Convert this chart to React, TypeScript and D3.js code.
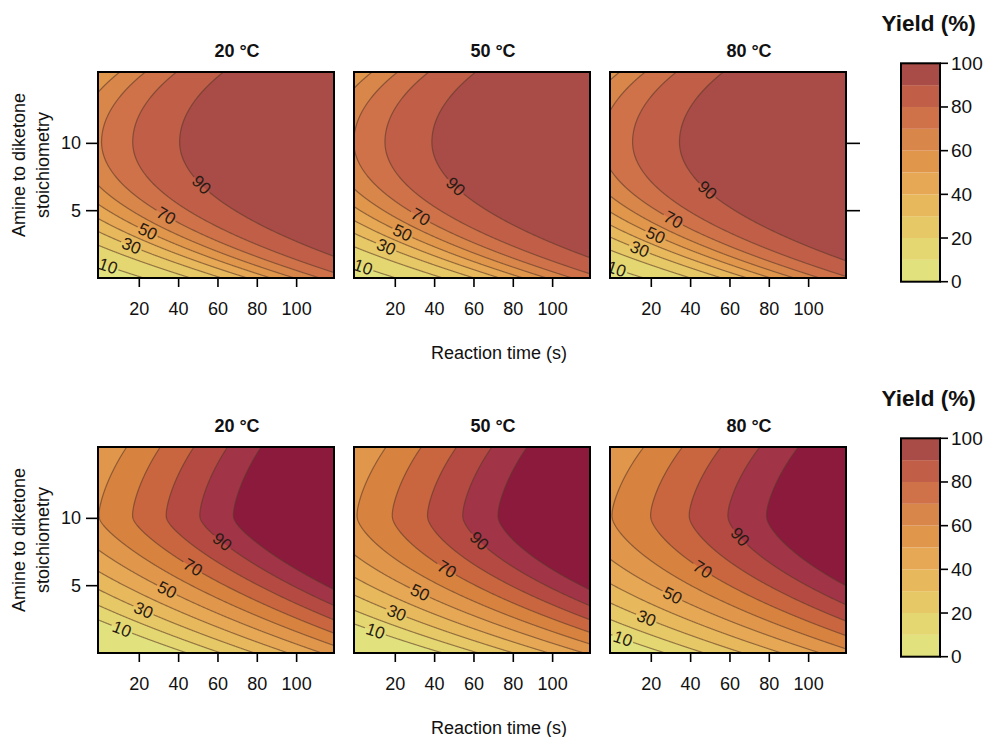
import React from "react";
import * as d3 from "d3";

// ---------- data ----------
const temperatures = ["20 °C", "50 °C", "80 °C"];
const levels = [0, 10, 20, 30, 40, 50, 60, 70, 80, 90, 100];
const labelLevels = [10, 30, 50, 70, 90];
// colour key (0-10 ... 90-100)
const bandColors = [
  "#e1e27d", "#e4d771", "#e7c866", "#e8b95c", "#e6a854",
  "#e0974c", "#d9864a", "#cf7249", "#c05e48", "#a94b47",
];
// fill colours used in the lower row of panels (deeper at the top end) and above 100 %
const lowerRowColors = [
  "#e1e27d", "#e4d771", "#e7c866", "#e8b95c", "#e6a854",
  "#e0974c", "#d8823f", "#c9663f", "#b54a42", "#a13447",
];
const overColor = "#8b1a3d";
const xTicks = [20, 40, 60, 80, 100];
const yTicks = [5, 10];
const legendTicks = [0, 20, 40, 60, 80, 100];
const xDomain = [-1, 119];
const yDomain = [0, 15.3];

// response-surface coefficients, one per panel
// order: top row 20/50/80 °C, bottom row 20/50/80 °C
const modelLink = ["logit", "logit", "logit", "identity", "identity", "identity"];
const modelIntercept = [0.82, 0.885, 1.03, 60.3, 59.7, 60.0];
const modelTimeSlope = [0.034, 0.034, 0.034, 0.585, 0.558, 0.509];
const modelStoichOpt = [10.1, 10.1, 10.1, 10.2, 10.2, 10.2];
const modelLinLow = [0, 0, 0, 3.77, 2.12, 1.9];
const modelQuadLow = [0.037, 0.037, 0.037, 0.388, 0.521, 0.44];
const modelLinHigh = [0, 0, 0, 0.8, 0.8, 0.8];
const modelQuadHigh = [0.028, 0.028, 0.028, 0.18, 0.18, 0.18];

function yieldAt(p: number, t: number, s: number): number {
  const dlt = s - modelStoichOpt[p];
  const ad = Math.sqrt(dlt * dlt + 0.49) - 0.7;
  const pen =
    dlt < 0
      ? modelLinLow[p] * ad + modelQuadLow[p] * dlt * dlt
      : modelLinHigh[p] * ad + modelQuadHigh[p] * dlt * dlt;
  const z = modelIntercept[p] + modelTimeSlope[p] * t - pen;
  if (modelLink[p] === "logit") return 100 / (1 + Math.exp(-z));
  return 3 * Math.log(1 + Math.exp(z / 3));
}

// ---------- layout ----------
const W = 993, H = 737;
const panelW = 236, panelH = 206;
const panelLefts = [98, 354, 610];
const rowTops = [72, 447];
const legendX = 901, legendW = 39;
const legendRanges = [[281.7, 63.3], [656.7, 438.3]];
const FONT = "'Liberation Sans', Arial, Helvetica, sans-serif";

function Panel({ p, row, col }: { p: number; row: number; col: number }) {
  const left = panelLefts[col];
  const top = rowTops[row];
  const x = d3.scaleLinear().domain(xDomain).range([left, left + panelW]);
  const y = d3.scaleLinear().domain(yDomain).range([top + panelH, top]);
  const nx = panelW * 2, ny = panelH * 2;
  const values: number[] = new Array(nx * ny);
  for (let j = 0; j < ny; j++) {
    const s = y.invert(top + (j + 0.5) * (panelH / ny));
    for (let i = 0; i < nx; i++) {
      const t = x.invert(left + (i + 0.5) * (panelW / nx));
      values[j * nx + i] = yieldAt(p, t, s);
    }
  }
  const contours = d3.contours().size([nx, ny]).thresholds(levels)(values);
  const proj = d3.geoTransform({
    point(gx: number, gy: number) {
      (this as any).stream.point(left + (gx * panelW) / nx, top + (gy * panelH) / ny);
    },
  });
  const path = d3.geoPath(proj);
  const fills = row === 0 ? bandColors : lowerRowColors;

  // contour labels where each labelled level crosses a diagonal through the lower-left corner
  const f = (px: number, py: number) => yieldAt(p, x.invert(px), y.invert(py));
  const spots: { L: number; px: number; py: number; ang: number }[] = [];
  const cx = left, cy = top + panelH - 3, slope = 0.87, step = 0.25;
  for (const L of labelLevels) {
    let prev = f(cx, cy);
    for (let k = 1; k < 1200; k++) {
      const px = cx + k * step, py = cy - k * step * slope;
      if (px > left + panelW || py < top) break;
      const v = f(px, py);
      if (prev < L && v >= L) {
        const fr = (L - prev) / (v - prev);
        const qx = px - step * (1 - fr), qy = py + step * slope * (1 - fr);
        const gx = (f(qx + 1, qy) - f(qx - 1, qy)) / 2;
        const gy = (f(qx, qy + 1) - f(qx, qy - 1)) / 2;
        let ang = (Math.atan2(gx, -gy) * 180) / Math.PI;
        if (ang > 90) ang -= 180;
        if (ang < -90) ang += 180;
        spots.push({ L, px: qx, py: qy, ang });
        break;
      }
      prev = v;
    }
  }
  const clipId = `clip${p}`;
  const maskId = `mask${p}`;
  return (
    <g>
      <defs>
        <clipPath id={clipId}>
          <rect x={left} y={top} width={panelW} height={panelH} />
        </clipPath>
        <mask id={maskId} maskUnits="userSpaceOnUse" x={0} y={0} width={W} height={H}>
          <rect x={0} y={0} width={W} height={H} fill="white" />
          {spots.map((sp, i) => (
            <rect
              key={i}
              x={-11}
              y={-7}
              width={22}
              height={14}
              fill="black"
              transform={`translate(${sp.px},${sp.py}) rotate(${sp.ang})`}
            />
          ))}
        </mask>
      </defs>
      <g clipPath={`url(#${clipId})`}>
        {contours.map((c, i) => (
          <path
            key={i}
            d={path(c as any) || ""}
            fill={i < fills.length ? fills[i] : overColor}
            stroke="none"
          />
        ))}
        <g mask={`url(#${maskId})`}>
          {contours.slice(1).map((c, i) => (
            <path
              key={i}
              d={path(c as any) || ""}
              fill="none"
              stroke="#5a3828"
              strokeOpacity={0.6}
              strokeWidth={1.2}
            />
          ))}
        </g>
        {spots.map((sp, i) => (
          <text
            key={i}
            transform={`translate(${sp.px},${sp.py}) rotate(${sp.ang})`}
            textAnchor="middle"
            dominantBaseline="central"
            fontSize={17}
            fill="#2a1b12"
            fontFamily={FONT}
          >
            {sp.L}
          </text>
        ))}
      </g>
      <rect x={left} y={top} width={panelW} height={panelH} fill="none" stroke="#000" strokeWidth={2} />
      {xTicks.map((v) => (
        <g key={v}>
          <line x1={x(v)} x2={x(v)} y1={top + panelH} y2={top + panelH + 9} stroke="#000" strokeWidth={1.6} />
          <text x={x(v)} y={top + panelH + 37} textAnchor="middle" fontSize={18} fontFamily={FONT} fill="#111">
            {v}
          </text>
        </g>
      ))}
      {col === 0 &&
        yTicks.map((v) => (
          <g key={v}>
            <line x1={left - 12} x2={left} y1={y(v)} y2={y(v)} stroke="#000" strokeWidth={1.6} />
            <text x={left - 17} y={y(v)} textAnchor="end" dominantBaseline="central" fontSize={18} fontFamily={FONT} fill="#111">
              {v}
            </text>
          </g>
        ))}
      {col === 2 && row === 0 &&
        yTicks.map((v) => (
          <line key={v} x1={left + panelW} x2={left + panelW + 14} y1={y(v)} y2={y(v)} stroke="#000" strokeWidth={1.6} />
        ))}
      <text
        x={left + panelW / 2 + 21}
        y={top - 15}
        textAnchor="middle"
        fontSize={18}
        fontWeight="bold"
        fontFamily={FONT}
        fill="#111"
      >
        {temperatures[col]}
      </text>
    </g>
  );
}

function Legend({ row }: { row: number }) {
  const [y0, y1] = legendRanges[row];
  const ls = d3.scaleLinear().domain([0, 100]).range([y0, y1]);
  return (
    <g>
      <text x={881.5} y={rowTops[row] - 41} fontSize={22.5} fontWeight="bold" fontFamily={FONT} fill="#111">
        Yield (%)
      </text>
      {bandColors.map((c, i) => (
        <rect key={i} x={legendX} y={ls(levels[i + 1])} width={legendW} height={ls(levels[i]) - ls(levels[i + 1])} fill={c} />
      ))}
      <rect x={legendX} y={y1} width={legendW} height={y0 - y1} fill="none" stroke="#000" strokeWidth={2} />
      {legendTicks.map((v) => (
        <g key={v}>
          <line x1={legendX + legendW} x2={legendX + legendW + 8} y1={ls(v)} y2={ls(v)} stroke="#000" strokeWidth={1.6} />
          <text x={legendX + legendW + 11} y={ls(v)} dominantBaseline="central" fontSize={19} fontFamily={FONT} fill="#111">
            {v}
          </text>
        </g>
      ))}
    </g>
  );
}

export default function App() {
  return (
    <svg
      width={W}
      height={H}
      viewBox={`0 0 ${W} ${H}`}
      style={{ position: "absolute", left: 0, top: 0, background: "#fff" }}
    >
      <rect x={0} y={0} width={W} height={H} fill="#fff" />
      {[0, 1].map((row) => (
        <g key={row}>
          {[0, 1, 2].map((col) => (
            <Panel key={col} p={row * 3 + col} row={row} col={col} />
          ))}
          <g transform={`translate(19,${rowTops[row] + panelH / 2 - 10}) rotate(-90)`}>
            <text textAnchor="middle" dominantBaseline="central" fontSize={18} fontFamily={FONT} fill="#111">
              Amine to diketone
            </text>
            <text y={24} textAnchor="middle" dominantBaseline="central" fontSize={18} fontFamily={FONT} fill="#111">
              stoichiometry
            </text>
          </g>
          <text
            x={499}
            y={rowTops[row] + panelH + 81}
            textAnchor="middle"
            fontSize={18}
            fontFamily={FONT}
            fill="#111"
          >
            Reaction time (s)
          </text>
          <Legend row={row} />
        </g>
      ))}
    </svg>
  );
}
